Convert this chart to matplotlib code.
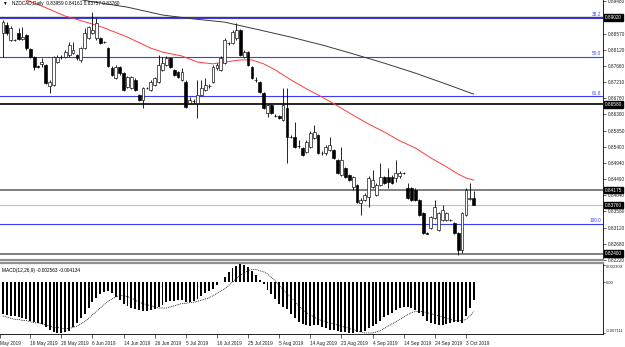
import numpy as np
import matplotlib.pyplot as plt

plt.rcParams['font.family'] = ['Liberation Sans', 'DejaVu Sans']

# NZDCAD daily bars, oldest first
opens = [0.8859, 0.8881, 0.8839, 0.8839, 0.8859, 0.8842, 0.8853, 0.8814, 0.8791, 0.8766,
         0.8772, 0.8769, 0.8710, 0.8713, 0.8777, 0.8791, 0.8791, 0.8797, 0.8802, 0.8797,
         0.8783, 0.8817, 0.8845, 0.8859, 0.8845, 0.8845, 0.8833, 0.8817, 0.8760, 0.8732,
         0.8763, 0.8746, 0.8707, 0.8704, 0.8727, 0.8685, 0.8671, 0.8704, 0.8699, 0.8713,
         0.8721, 0.8755, 0.8769, 0.8788, 0.8755, 0.8749, 0.8727, 0.8721, 0.8662, 0.8668,
         0.8662, 0.8685, 0.8699, 0.8710, 0.8721, 0.8760, 0.8755, 0.8774, 0.8831, 0.8831,
         0.8845, 0.8867, 0.8791, 0.8805, 0.8763, 0.8727, 0.8721, 0.8690, 0.8634, 0.8657,
         0.8626, 0.8626, 0.8614, 0.8648, 0.8567, 0.8567, 0.8542, 0.8536, 0.8525, 0.8539,
         0.8564, 0.8572, 0.8522, 0.8522, 0.8530, 0.8530, 0.8502, 0.8460, 0.8480, 0.8460,
         0.8427, 0.8432, 0.8382, 0.8390, 0.8399, 0.8427, 0.8404, 0.8432, 0.8455, 0.8455,
         0.8455, 0.8452, 0.8457, 0.8466, 0.8424, 0.8424, 0.8418, 0.8390, 0.8354, 0.8297,
         0.8312, 0.8340, 0.8306, 0.8334, 0.8334, 0.8334, 0.8326, 0.8297, 0.8250, 0.8348,
         0.8392, 0.83959]
highs = [0.8895, 0.8889, 0.8878, 0.8842, 0.8873, 0.8875, 0.8856, 0.8817, 0.8794, 0.8769,
         0.8788, 0.8772, 0.8727, 0.8794, 0.8797, 0.8797, 0.8811, 0.8833, 0.8833, 0.8800,
         0.8819, 0.8873, 0.8878, 0.8917, 0.8901, 0.8847, 0.8836, 0.8819, 0.8766, 0.8769,
         0.8766, 0.8749, 0.8738, 0.8738, 0.8732, 0.8688, 0.8707, 0.8707, 0.8727, 0.8735,
         0.8797, 0.8791, 0.8794, 0.8791, 0.8758, 0.8752, 0.8760, 0.8727, 0.8679, 0.8673,
         0.8727, 0.8727, 0.8732, 0.8715, 0.8769, 0.8774, 0.8794, 0.8845, 0.8833, 0.8867,
         0.8887, 0.8870, 0.8811, 0.8808, 0.8766, 0.8735, 0.8724, 0.8693, 0.8659, 0.8659,
         0.8631, 0.8628, 0.8704, 0.8704, 0.8572, 0.8609, 0.8558, 0.8539, 0.8558, 0.8584,
         0.8600, 0.8575, 0.8527, 0.8544, 0.8567, 0.8533, 0.8505, 0.8539, 0.8483, 0.8463,
         0.8457, 0.8435, 0.8396, 0.8410, 0.8457, 0.8474, 0.8438, 0.8494, 0.8457, 0.8480,
         0.8460, 0.8502, 0.8471, 0.8469, 0.8438, 0.8427, 0.8424, 0.8393, 0.8356, 0.8300,
         0.8345, 0.8390, 0.8356, 0.8376, 0.8356, 0.8337, 0.8328, 0.8300, 0.8356, 0.8424,
         0.8438, 0.84161]
lows = [0.8791, 0.8853, 0.8836, 0.8836, 0.8839, 0.8839, 0.8811, 0.8788, 0.8755, 0.8760,
        0.8763, 0.8716, 0.8690, 0.8710, 0.8774, 0.8786, 0.8788, 0.8791, 0.8800, 0.8783,
        0.8777, 0.8814, 0.8842, 0.8856, 0.8839, 0.8828, 0.8831, 0.8763, 0.8738, 0.8730,
        0.8741, 0.8696, 0.8704, 0.8701, 0.8696, 0.8668, 0.8648, 0.8701, 0.8696, 0.8710,
        0.8718, 0.8752, 0.8766, 0.8760, 0.8738, 0.8732, 0.8724, 0.8648, 0.8659, 0.8662,
        0.8620, 0.8682, 0.8696, 0.8704, 0.8718, 0.8755, 0.8752, 0.8772, 0.8825, 0.8828,
        0.8839, 0.8794, 0.8788, 0.8766, 0.8730, 0.8721, 0.8690, 0.8645, 0.8623, 0.8631,
        0.8623, 0.8617, 0.8612, 0.8494, 0.8564, 0.8536, 0.8536, 0.8514, 0.8522, 0.8536,
        0.8561, 0.8519, 0.8516, 0.8516, 0.8527, 0.8505, 0.8463, 0.8457, 0.8452, 0.8443,
        0.8418, 0.8382, 0.8348, 0.8387, 0.8371, 0.8424, 0.8401, 0.8429, 0.8435, 0.8424,
        0.8435, 0.8441, 0.8452, 0.8463, 0.8393, 0.8387, 0.8387, 0.8345, 0.8295, 0.8295,
        0.8309, 0.8337, 0.8303, 0.8331, 0.8331, 0.8331, 0.8295, 0.8236, 0.8241, 0.8345,
        0.8390, 0.83757]
closes = [0.8889, 0.8859, 0.8873, 0.8838, 0.8842, 0.8847, 0.8817, 0.8791, 0.8763, 0.8763,
          0.8777, 0.8718, 0.8721, 0.8791, 0.8791, 0.8790, 0.8805, 0.8825, 0.8811, 0.8788,
          0.8817, 0.8859, 0.8875, 0.8867, 0.8887, 0.8831, 0.8834, 0.8766, 0.8741, 0.8763,
          0.8746, 0.8699, 0.8735, 0.8735, 0.8699, 0.8671, 0.8704, 0.8703, 0.8721, 0.8732,
          0.8769, 0.8774, 0.8788, 0.8763, 0.8741, 0.8735, 0.8749, 0.8651, 0.8671, 0.8667,
          0.8685, 0.8704, 0.8713, 0.8709, 0.8763, 0.8769, 0.8788, 0.8839, 0.8830, 0.8861,
          0.8867, 0.8797, 0.8805, 0.8769, 0.8732, 0.8726, 0.8693, 0.8648, 0.8657, 0.8634,
          0.8625, 0.8620, 0.8657, 0.8567, 0.8566, 0.8539, 0.8541, 0.8516, 0.8553, 0.8578,
          0.8581, 0.8522, 0.8521, 0.8539, 0.8544, 0.8508, 0.8466, 0.8502, 0.8455, 0.8446,
          0.8455, 0.8385, 0.8390, 0.8404, 0.8452, 0.8446, 0.8432, 0.8455, 0.8438, 0.8441,
          0.8438, 0.8466, 0.8466, 0.8465, 0.8396, 0.8390, 0.8390, 0.8348, 0.8297, 0.8296,
          0.8342, 0.8371, 0.8354, 0.8362, 0.8354, 0.8333, 0.8297, 0.8250, 0.8354, 0.8418,
          0.8396, 0.83760]

# moving averages, read at some bars
red_ma_bars = [6, 10, 16, 22, 26, 32, 38, 41, 46, 50, 54, 57, 61, 64, 67, 70, 74, 78,
               82, 86, 90, 94, 98, 102, 106, 110, 114, 117, 119, 121]
red_ma = [0.8951, 0.8934, 0.8906, 0.8887, 0.8873, 0.8847, 0.8816, 0.8805, 0.8794, 0.8777,
          0.8772, 0.8777, 0.8783, 0.8783, 0.8772, 0.8755, 0.8727, 0.8702, 0.8679, 0.8654,
          0.8628, 0.8603, 0.8581, 0.8556, 0.8536, 0.8508, 0.8483, 0.8463, 0.8452, 0.8446]
gray_ma_bars = [16, 22, 32, 41, 49, 57, 66, 74, 82, 90, 98, 106, 114, 121]
gray_ma = [0.8960, 0.8948, 0.8931, 0.8909, 0.8898, 0.8889, 0.8867, 0.8847, 0.8825, 0.8800,
           0.8774, 0.8746, 0.8715, 0.8687]

# MACD(12,26,9)
macd_main = [-0.00442, -0.00458, -0.00474, -0.00474, -0.00490, -0.00506, -0.00521, -0.00537,
             -0.00553, -0.00569, -0.00585, -0.00632, -0.00664, -0.00695, -0.00711, -0.00705,
             -0.00695, -0.00679, -0.00632, -0.00569, -0.00506, -0.00442, -0.00363, -0.00284,
             -0.00221, -0.00174, -0.00142, -0.00126, -0.00158, -0.00205, -0.00253, -0.00300,
             -0.00332, -0.00363, -0.00379, -0.00395, -0.00411, -0.00411, -0.00395, -0.00379,
             -0.00348, -0.00316, -0.00284, -0.00269, -0.00269, -0.00253, -0.00253, -0.00284,
             -0.00284, -0.00269, -0.00237, -0.00190, -0.00158, -0.00126, -0.00095, -0.00047,
             0.00000, 0.00063, 0.00142, 0.00190, 0.00221, 0.00253, 0.00237, 0.00205,
             0.00158, 0.00095, 0.00032, -0.00032, -0.00111, -0.00174, -0.00237, -0.00300,
             -0.00348, -0.00379, -0.00442, -0.00506, -0.00553, -0.00585, -0.00600, -0.00616,
             -0.00600, -0.00600, -0.00632, -0.00648, -0.00664, -0.00664, -0.00679, -0.00695,
             -0.00695, -0.00711, -0.00711, -0.00695, -0.00695, -0.00679, -0.00648, -0.00616,
             -0.00585, -0.00537, -0.00490, -0.00458, -0.00427, -0.00395, -0.00363, -0.00348,
             -0.00348, -0.00363, -0.00395, -0.00427, -0.00474, -0.00537, -0.00569, -0.00585,
             -0.00600, -0.00600, -0.00585, -0.00569, -0.00553, -0.00553, -0.00569, -0.00474,
             -0.00363, -0.002563]
macd_signal = [-0.00474, -0.00490, -0.00506, -0.00521, -0.00521, -0.00537, -0.00537, -0.00553,
               -0.00569, -0.00569, -0.00585, -0.00600, -0.00616, -0.00632, -0.00632, -0.00648,
               -0.00648, -0.00648, -0.00632, -0.00616, -0.00585, -0.00553, -0.00506, -0.00458,
               -0.00411, -0.00363, -0.00316, -0.00269, -0.00237, -0.00205, -0.00190, -0.00190,
               -0.00205, -0.00221, -0.00253, -0.00284, -0.00300, -0.00316, -0.00332, -0.00348,
               -0.00363, -0.00363, -0.00363, -0.00348, -0.00332, -0.00316, -0.00300, -0.00300,
               -0.00284, -0.00284, -0.00269, -0.00253, -0.00237, -0.00221, -0.00190, -0.00158,
               -0.00126, -0.00095, -0.00047, 0.00000, 0.00047, 0.00095, 0.00126, 0.00158,
               0.00174, 0.00174, 0.00158, 0.00142, 0.00111, 0.00063, 0.00016, -0.00047,
               -0.00111, -0.00158, -0.00221, -0.00269, -0.00332, -0.00379, -0.00427, -0.00458,
               -0.00490, -0.00521, -0.00537, -0.00553, -0.00569, -0.00585, -0.00600, -0.00616,
               -0.00632, -0.00648, -0.00664, -0.00679, -0.00695, -0.00711, -0.00711, -0.00711,
               -0.00695, -0.00679, -0.00648, -0.00616, -0.00585, -0.00553, -0.00521, -0.00490,
               -0.00458, -0.00427, -0.00411, -0.00411, -0.00411, -0.00427, -0.00442, -0.00458,
               -0.00474, -0.00490, -0.00506, -0.00521, -0.00537, -0.00537, -0.00537, -0.00521,
               -0.00474, -0.004134]

date_labels = ['May 2019', '16 May 2019', '28 May 2019', '6 Jun 2019', '14 Jun 2019',
               '26 Jun 2019', '5 Jul 2019', '16 Jul 2019', '25 Jul 2019', '5 Aug 2019',
               '14 Aug 2019', '23 Aug 2019', '4 Sep 2019', '14 Sep 2019', '24 Sep 2019',
               '3 Oct 2019']
date_bars = [-0.7, 7, 15, 23, 31, 39, 47, 55, 63, 71, 79, 87, 95, 103, 111, 119]

# plain scale labels (0.89020 is shown in its marker box)
price_ticks = [0.89480, 0.88570, 0.88120, 0.87660, 0.87210, 0.86760, 0.86300,
               0.85850, 0.85400, 0.84940, 0.84490, 0.84040, 0.83580, 0.83120, 0.82680,
               0.82220]
fib_levels = [0.89020, 0.87914, 0.86808, 0.83228]
fib_names = ['38.2', '50.0', '61.8', '100.0']
level_lines = [0.86580, 0.84175, 0.83760, 0.82400]
level_colors = ['black', '#808080', '#c0c0c0', '#808080']
level_widths = [1.2, 1.4, 0.8, 1.4]
marked_prices = [0.89020, 0.86580, 0.84175, 0.83760, 0.82400]
macd_ticks = [0.002309, 0.0, -0.007111]
macd_tick_labels = ['0.002309', '0.00', '-0.007111']

FS = 3.4
BLUE = '#3c3cff'

o, h, l, c = (np.array(v) for v in (opens, highs, lows, closes))
x = np.arange(len(o))
up = c >= o

fig = plt.figure(figsize=(6.25, 3.47), dpi=100)
ax = fig.add_axes([0, 87 / 347, 603 / 625, 260 / 347])
axm = fig.add_axes([0, 13 / 347, 603 / 625, 71 / 347])
xlim = (-3 / 3.89, 600 / 3.89)

# horizontal levels
for lv in fib_levels:
    ax.axhline(lv, color=BLUE, lw=0.8, zorder=1)
ax.axhline(fib_levels[0] + 0.00004, color='#404040', lw=1.0, zorder=1)
for lv, col, lw in zip(level_lines, level_colors, level_widths):
    ax.axhline(lv, color=col, lw=lw, zorder=1)
for lv, name in zip(fib_levels, fib_names):
    ax.text(0.997, lv + 0.0002, name, color=BLUE, fontsize=FS, ha='right', va='bottom',
            transform=ax.get_yaxis_transform())

# moving averages
ax.plot(red_ma_bars, red_ma, color='#ff3b3b', lw=0.7, zorder=2)
ax.plot(gray_ma_bars, gray_ma, color='#3a3a3a', lw=0.7, zorder=2)

# candles
ax.vlines(x, l, h, color='black', lw=0.6, zorder=3)
body_lo = np.minimum(o, c)
body_h = np.maximum(np.abs(c - o), 0.00003)
ax.bar(x[up], body_h[up], bottom=body_lo[up], width=0.72, color='white',
       edgecolor='black', lw=0.45, zorder=4)
ax.bar(x[~up], body_h[~up], bottom=body_lo[~up], width=0.72, color='black',
       edgecolor='black', lw=0.45, zorder=4)

ax.set_xlim(*xlim)
ax.set_ylim(0.82218, 0.89511)
ax.yaxis.tick_right()
ax.set_yticks(price_ticks)
ax.set_yticklabels(['%.5f' % t for t in price_ticks])
ax.tick_params(axis='y', labelsize=FS, length=2, width=0.5, pad=1.5, colors='#202020')
ax.tick_params(axis='x', bottom=False, labelbottom=False)
for s in ('left', 'top'):
    ax.spines[s].set_visible(False)
ax.spines['right'].set_linewidth(0.6)
ax.spines['bottom'].set_color('#909090')
ax.spines['bottom'].set_linewidth(1.6)

for p in marked_prices:
    ax.annotate('%.5f' % p, xy=(1, p), xycoords=('axes fraction', 'data'),
                xytext=(2, 0), textcoords='offset pixels', fontsize=FS, color='white',
                va='center', ha='left', annotation_clip=False,
                bbox=dict(boxstyle='square,pad=0.15', fc='black', ec='black'))

ax.text(0.003, 0.997, '\u25bc', fontsize=FS, va='top', ha='left', transform=ax.transAxes)
ax.text(0.02, 0.997, 'NZDCAD,Daily  0.83959 0.84161 0.83757 0.83760', fontsize=FS,
        va='top', ha='left', transform=ax.transAxes)

# MACD panel
axm.bar(x, macd_main, width=0.5, color='black', zorder=3)
axm.plot(x, macd_signal, color='black', lw=0.6, ls=(0, (1, 1.2)), zorder=4)
axm.set_xlim(*xlim)
axm.set_ylim(-0.00725, 0.00265)
axm.yaxis.tick_right()
axm.set_yticks(macd_ticks)
axm.set_yticklabels(macd_tick_labels)
axm.tick_params(axis='y', labelsize=3.0, length=1.5, width=0.5, pad=0.8, colors='#202020')
yl = axm.get_yticklabels()
yl[0].set_va('top')
yl[-1].set_va('bottom')
axm.set_xticks(date_bars)
axm.set_xticklabels(date_labels, ha='left')
axm.tick_params(axis='x', labelsize=FS, length=3, width=0.5, pad=2, colors='#202020')
axm.spines['left'].set_visible(False)
axm.spines['top'].set_color('#909090')
axm.spines['top'].set_linewidth(1.6)
axm.spines['right'].set_linewidth(0.6)
axm.spines['bottom'].set_linewidth(0.6)
axm.text(0.003, 0.93, 'MACD(12,26,9) -0.002563 -0.004134', fontsize=FS, va='top',
         ha='left', transform=axm.transAxes)

fig.savefig('out.png', dpi=100)
